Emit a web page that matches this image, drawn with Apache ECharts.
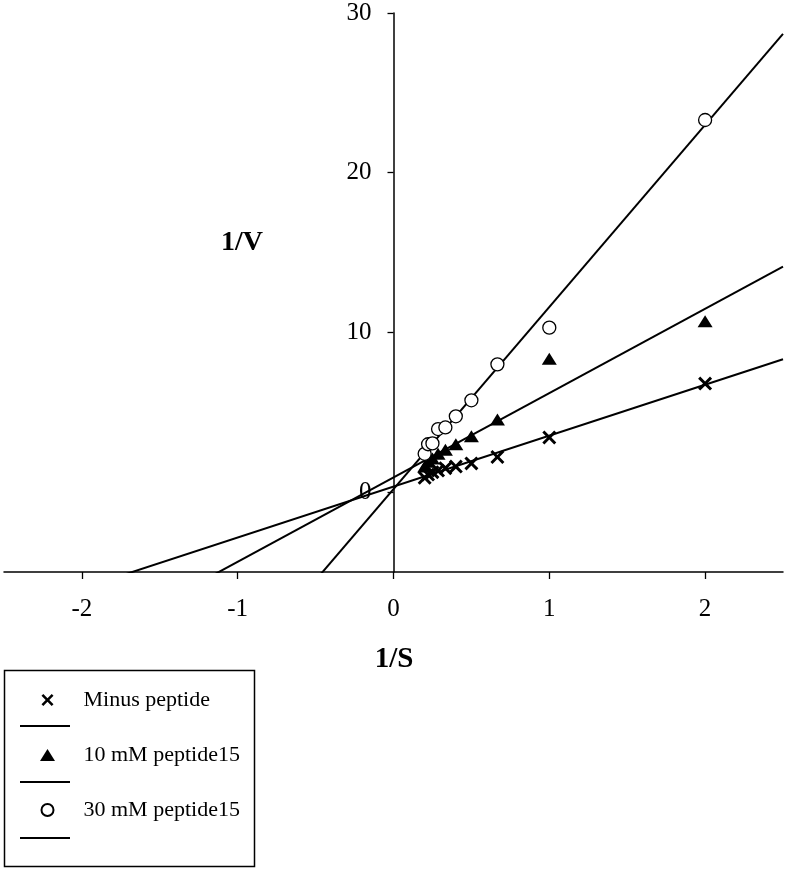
<!DOCTYPE html>
<html>
<head>
<meta charset="utf-8">
<script src="https://cdn.jsdelivr.net/npm/echarts@6/dist/echarts.min.js"></script>
<style>html,body{margin:0;padding:0;background:#fff;}#c{width:788px;height:871px;}</style>
</head>
<body>
<div id="c"></div>
<script>
// 1/S values
const xVals = [0.2, 0.222, 0.25, 0.286, 0.333, 0.4, 0.5, 0.667, 1, 2];
// 1/V values
const minusPeptide = [0.9, 1.1, 1.25, 1.35, 1.5, 1.6, 1.8, 2.2, 3.42, 6.8];
const peptide10 = [1.6, 1.9, 2.1, 2.4, 2.65, 3.0, 3.5, 4.55, 8.35, 10.7];
const peptide30 = [2.4, 3.0, 3.05, 3.95, 4.05, 4.75, 5.75, 8.0, 10.3, 23.3];
// regression line parameters [minus, 10 mM, 30 mM]
const fitSlope = [3.19, 5.28, 11.4];
const fitIntercept = [0.35, 0.92, 0.19];
const seriesNames = ['Minus peptide', '10 mM peptide15', '30 mM peptide15'];
const xTicks = [-2, -1, 0, 1, 2];
const yTicks = [0, 10, 20, 30];

const FONT = "'Liberation Serif', 'Times New Roman', serif";
const crossPath = 'path://M0,3 L3,0 L10,7 L17,0 L20,3 L13,10 L20,17 L17,20 L10,13 L3,20 L0,17 L7,10 Z';
const triPath = 'path://M7.5,0 L15,12 L0,12 Z';
const xMin = -2.5, xMax = 2.5;
const gridLeft = 4, gridRight = 5;
const plotW = 788 - gridLeft - gridRight;

function pts(ys) { return xVals.map((x, i) => [x, ys[i]]); }
function fitLine(k) {
  return [[xMin, fitIntercept[k] + fitSlope[k] * xMin], [xMax, fitIntercept[k] + fitSlope[k] * xMax]];
}

const scatterStyles = [
  { symbol: crossPath, symbolSize: 14, itemStyle: { color: '#000', opacity: 1 } },
  { symbol: triPath, symbolSize: [15, 12], itemStyle: { color: '#000', opacity: 1 } },
  { symbol: 'circle', symbolSize: 13, itemStyle: { color: '#fff', borderColor: '#000', borderWidth: 1.3, opacity: 1 } }
];
const dataSets = [minusPeptide, peptide10, peptide30];

const series = [];
seriesNames.forEach((n, k) => {
  series.push({
    name: n + ' fit', type: 'line', data: fitLine(k), symbol: 'none', showSymbol: false, clip: true,
    lineStyle: { color: '#000', width: 2 }, itemStyle: { color: '#000' }, z: 2, silent: true, animation: false
  });
});
seriesNames.forEach((n, k) => {
  series.push(Object.assign({
    name: n, type: 'scatter', data: pts(dataSets[k]), z: 3, animation: false,
    emphasis: { disabled: true }
  }, scatterStyles[k]));
});

// y axis sits at x = 0: shift it inward from the grid's left edge
const yAxisOffset = -plotW * (0 - xMin) / (xMax - xMin);

const chart = echarts.init(document.getElementById('c'), null, { renderer: 'canvas' });
chart.setOption({
  backgroundColor: '#fff',
  animation: false,
  textStyle: { fontFamily: FONT },
  grid: { left: gridLeft, right: gridRight, top: 13, bottom: 299, containLabel: false, outerBoundsMode: 'none' },
  xAxis: {
    type: 'value', min: xMin, max: xMax,
    axisLine: { onZero: false, lineStyle: { color: '#000', width: 1.5 } },
    axisTick: { show: true, length: 7, inside: false, customValues: xTicks, lineStyle: { color: '#000', width: 1.3 } },
    axisLabel: { customValues: xTicks, margin: 25, color: '#000', fontSize: 25, fontFamily: FONT },
    splitLine: { show: false }
  },
  yAxis: {
    type: 'value', min: -5, max: 30, position: 'left', offset: yAxisOffset,
    axisLine: { onZero: false, lineStyle: { color: '#000', width: 1.5 } },
    axisTick: { show: true, length: 6, inside: false, customValues: yTicks, lineStyle: { color: '#000', width: 1.3 } },
    axisLabel: { customValues: yTicks, margin: 22, color: '#000', fontSize: 25, fontFamily: FONT, hideOverlap: false },
    splitLine: { show: false }
  },
  legend: [
    {
      data: seriesNames, orient: 'vertical', left: 35, top: 684,
      itemWidth: 62, itemHeight: 12, itemGap: 33,
      textStyle: { fontSize: 22, fontFamily: FONT, color: '#000', lineHeight: 22 },
      selectedMode: false
    },
    {
      data: seriesNames.map(n => ({ name: n + ' fit', icon: 'rect' })), orient: 'vertical', left: 15, top: 720,
      itemWidth: 50, itemHeight: 2, itemGap: 54,
      itemStyle: { color: '#000' },
      formatter: function () { return ''; },
      selectedMode: false
    }
  ],
  graphic: [
    { type: 'rect', shape: { x: 4.5, y: 670.5, width: 250, height: 196 },
      style: { fill: 'none', stroke: '#000', lineWidth: 1.5 }, z: 1 },
    { type: 'text', x: 242, y: 243,
      style: { text: '1/V', font: "bold 28px 'Liberation Serif', serif", fill: '#000', align: 'center', verticalAlign: 'middle' } },
    { type: 'text', x: 394, y: 660,
      style: { text: '1/S', font: "bold 29px 'Liberation Serif', serif", fill: '#000', align: 'center', verticalAlign: 'middle' } }
  ],
  series: series
});
</script>
</body>
</html>
